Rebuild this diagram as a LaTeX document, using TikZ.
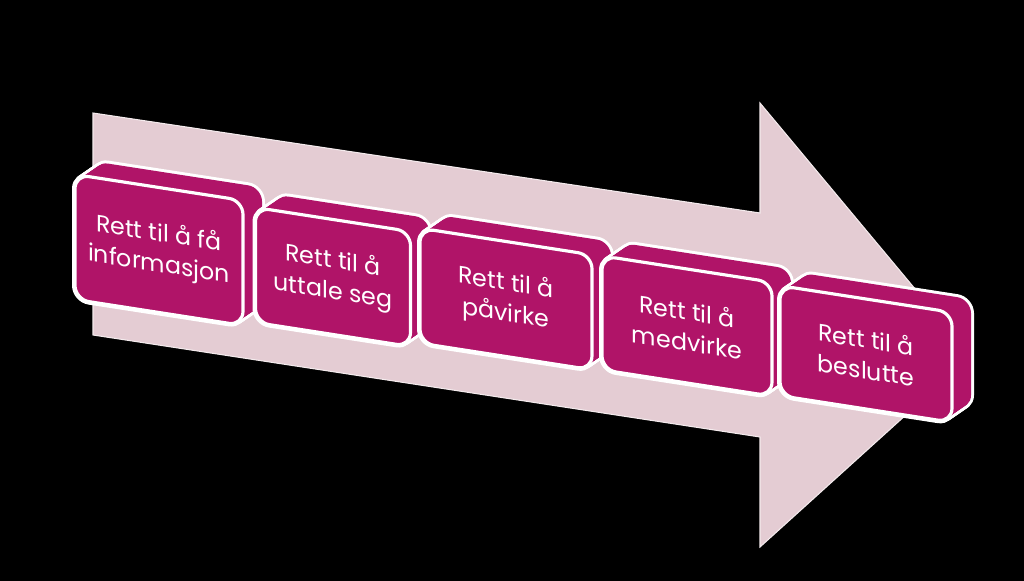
\documentclass[tikz,border=0pt]{standalone}
\usepackage{fontspec}
\setmainfont{Poppins}
\usepackage{tikz}
\definecolor{plum}{RGB}{176,20,104}
\definecolor{shaftpink}{RGB}{228,204,211}

% one slanted slab: centre x, centre y, width, height, name, text
\newcommand{\slab}[6]{%
  \begin{scope}[shift={(#1,#2)}, yslant=-0.155]
    \foreach \t in {0,0.05,...,1.01}
      \draw[rim] ({-#3/2+19*\t},{-#4/2-16*\t}) rectangle ({#3/2+19*\t},{#4/2-16*\t});
    \foreach \t in {0,0.05,...,1.01}
      \fill[core] ({-#3/2+19*\t},{-#4/2-16*\t}) rectangle ({#3/2+19*\t},{#4/2-16*\t});
    \draw[face] (-#3/2,-#4/2) rectangle (#3/2,#4/2);
    \node[lbl] (#5) at (0,0) {#6};
  \end{scope}}

\begin{document}
\begin{tikzpicture}[x=0.02cm, y=-0.02cm]
  \tikzstyle{rim}=[draw=white, fill=white, line width=3.4pt, rounded corners=8pt]
  \tikzstyle{core}=[fill=plum, rounded corners=8pt]
  \tikzstyle{face}=[draw=white, fill=plum, line width=1.8pt, rounded corners=8pt]
  \tikzstyle{lbl}=[text=white, align=center, transform shape, inner sep=1pt,
                   font=\fontsize{13.5}{17.5}\selectfont]
  \fill[black] (0,0) rectangle (1024,581);
  % the big arrow
  \fill[shaftpink, draw=white!60!shaftpink, line width=0.6pt]
    (93,113) -- (760,213) -- (760,103) -- (971,356) -- (760,547)
    -- (760,437) -- (93,335) -- cycle;
  \slab{159}{250}{168}{125}{info}{Rett til å få\\informasjon}
  \slab{333}{277}{155}{115}{uttale}{Rett til å\\uttale seg}
  \slab{506}{299}{172}{115}{pavirke}{Rett til å\\påvirke}
  \slab{687}{326}{170}{114}{medvirke}{Rett til å\\medvirke}
  \slab{866}{354}{172}{110}{beslutte}{Rett til å\\beslutte}
\end{tikzpicture}
\end{document}
